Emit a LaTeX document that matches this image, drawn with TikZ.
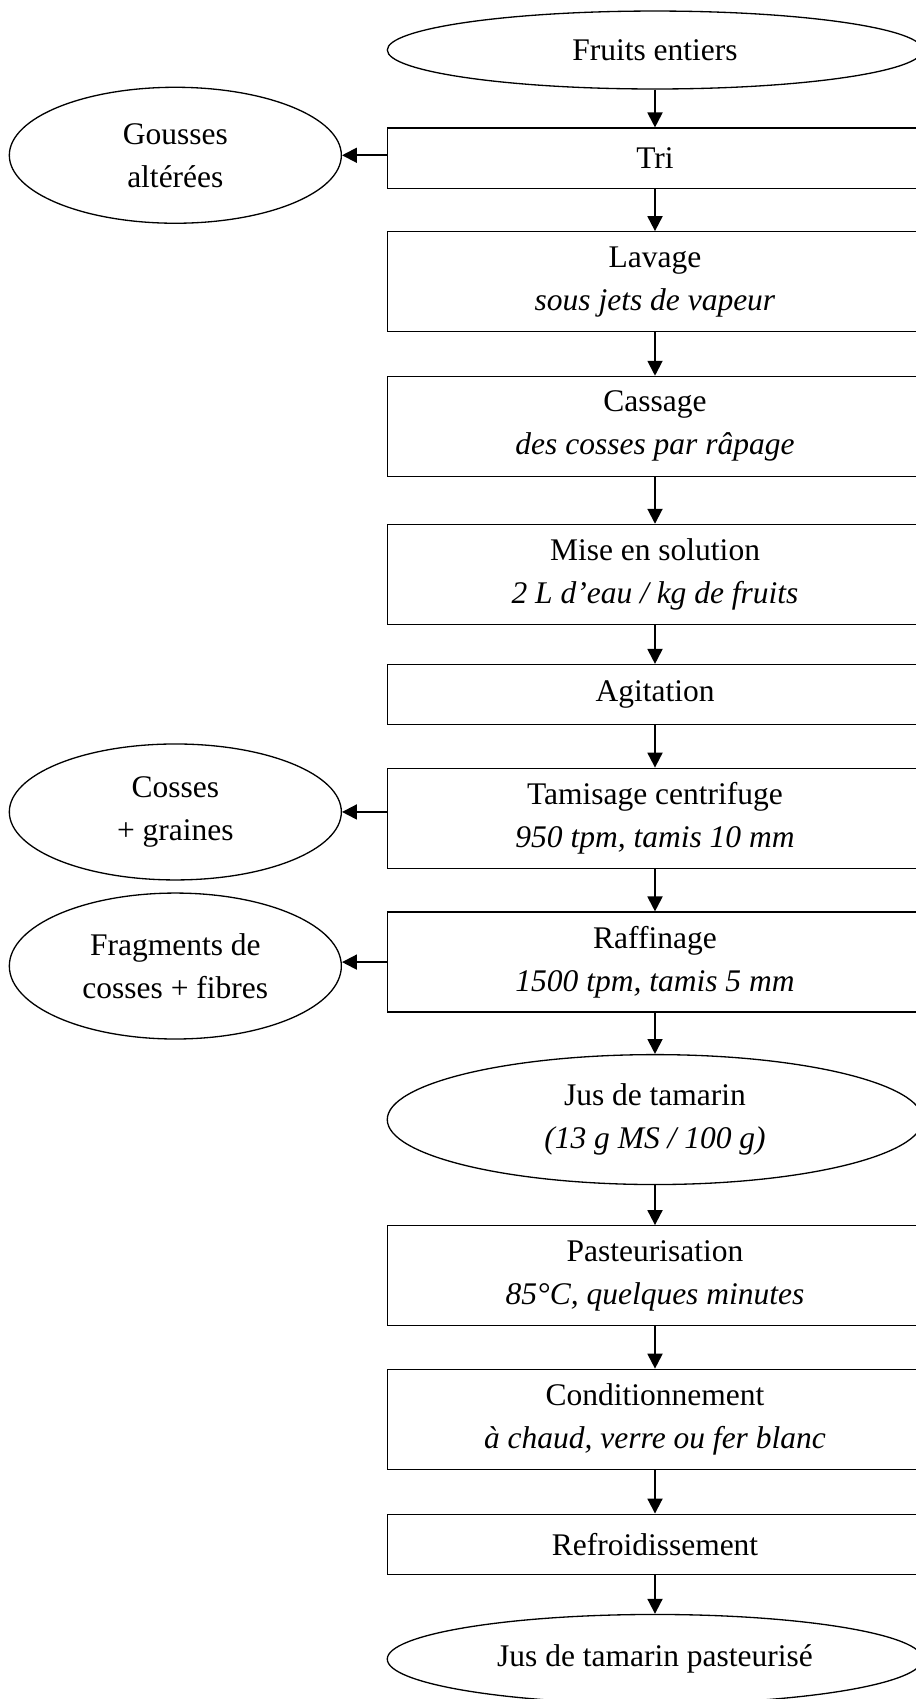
\documentclass[tikz,border=0pt]{standalone}
\usepackage{fontspec}
\setmainfont{Liberation Serif}
\usepackage{tikz}
\usetikzlibrary{
    positioning,
    arrows.meta,
    shapes.geometric,
}
\tikzset{
    % Node styles
    process/.style={rectangle, draw, line width=0.5pt, minimum width=204pt,
                    minimum height=38.1pt, inner sep=0pt, align=center,
                    font=\fontsize{12}{16.4}\selectfont},
    short process/.style={process, minimum height=22.9pt},
    product/.style={ellipse, draw, line width=0.5pt, minimum width=204pt,
                    minimum height=29.7pt, inner sep=0pt, align=center,
                    font=\fontsize{12}{16.4}\selectfont},
    waste/.style={product, minimum width=126.5pt, minimum height=51.8pt},
    % Arrow styles
    arrow/.style={-{Triangle[length=5.7pt, width=5.7pt]}, line width=0.75pt},
}

\begin{document}
\begin{tikzpicture}[x=0.381pt, y=-0.381pt, node distance=16.1pt]
    \useasboundingbox (0,0) rectangle (916,1699);

    % Main line
    \node[product] (fruits) at (655,50) {Fruits entiers};
    \node[short process, below=14.4pt of fruits] (tri) {Tri};
    \node[process, below=of tri] (lavage) {Lavage\\ \textit{sous jets de vapeur}};
    \node[process, below=16.5pt of lavage] (cassage) {Cassage\\ \textit{des cosses par râpage}};
    \node[process, below=17.8pt of cassage] (solution) {Mise en solution\\ \textit{2 L d’eau / kg de fruits}};
    \node[short process, below=14.8pt of solution] (agitation) {Agitation};
    \node[process, below=of agitation] (tamisage) {Tamisage centrifuge\\ \textit{950 tpm, tamis 10 mm}};
    \node[process, below=16.2pt of tamisage] (raffinage) {Raffinage\\ \textit{1500 tpm, tamis 5 mm}};
    \node[product, minimum height=49.5pt, below=15.7pt of raffinage] (jus) {Jus de tamarin\\ \textit{(13 g MS / 100 g)}};
    \node[process, below=15.2pt of jus] (pasteur) {Pasteurisation\\ \textit{85°C, quelques minutes}};
    \node[process, below=of pasteur] (condition) {Conditionnement\\ \textit{à chaud, verre ou fer blanc}};
    \node[short process, below=16.6pt of condition] (refroid) {Refroidissement};
    \node[product, minimum height=34pt, below=14.8pt of refroid] (final) {Jus de tamarin pasteurisé};

    % By-products
    \node[waste, left=17pt of tri, yshift=1.1pt] (gousses) {Gousses\\ altérées};
    \node[waste, left=17pt of tamisage, yshift=2.4pt] (cosses) {Cosses\\ + graines};
    \node[waste, minimum height=55.6pt, left=17pt of raffinage, yshift=-1.5pt] (fragments) {Fragments de\\ cosses + fibres};

    % Arrows
    \draw[arrow] (fruits) -- (tri);
    \draw[arrow] (tri) -- (lavage);
    \draw[arrow] (lavage) -- (cassage);
    \draw[arrow] (cassage) -- (solution);
    \draw[arrow] (solution) -- (agitation);
    \draw[arrow] (agitation) -- (tamisage);
    \draw[arrow] (tamisage) -- (raffinage);
    \draw[arrow] (raffinage) -- (jus);
    \draw[arrow] (jus) -- (pasteur);
    \draw[arrow] (pasteur) -- (condition);
    \draw[arrow] (condition) -- (refroid);
    \draw[arrow] (refroid) -- (final);
    \draw[arrow] (tri.west |- gousses.east) -- (gousses.east);
    \draw[arrow] (tamisage.west |- cosses.east) -- (cosses.east);
    \draw[arrow] (raffinage.west) -- (raffinage.west -| fragments.east);
\end{tikzpicture}
\end{document}
